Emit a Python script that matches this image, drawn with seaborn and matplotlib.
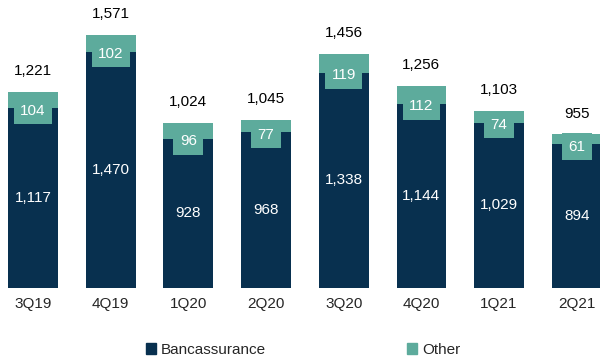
import matplotlib
matplotlib.use("Agg")
import matplotlib.pyplot as plt
import seaborn as sns
import pandas as pd
from matplotlib.patches import Patch

# --- data
quarters = ["3Q19", "4Q19", "1Q20", "2Q20", "3Q20", "4Q20", "1Q21", "2Q21"]
bancassurance = [1117, 1470, 928, 968, 1338, 1144, 1029, 894]
other = [104, 102, 96, 77, 119, 112, 74, 61]
totals = [1221, 1571, 1024, 1045, 1456, 1256, 1103, 955]

navy = "#08304f"
teal = "#5dab9c"

sns.set_style("white")
plt.rcParams["font.family"] = ["Liberation Sans Narrow", "Liberation Sans", "DejaVu Sans"]

df = pd.DataFrame({"Quarter": quarters, "Bancassurance": bancassurance,
                   "Other": other, "Total": totals})

fig = plt.figure(figsize=(6, 3.58), dpi=100)
ax = fig.add_axes([0, 0.195, 1, 0.805])

# total bar in teal, bancassurance drawn over it -> stacked look
sns.barplot(data=df, x="Quarter", y="Total", color=teal, width=0.64,
            saturation=1, linewidth=0, ax=ax)
sns.barplot(data=df, x="Quarter", y="Bancassurance", color=navy, width=0.64,
            saturation=1, linewidth=0, ax=ax)

for i, q in enumerate(quarters):
    ax.text(i, bancassurance[i] / 2, f"{bancassurance[i]:,}", ha="center",
            va="center", color="white", fontsize=11)
    ax.text(i, bancassurance[i] - 15, f"{other[i]}", ha="center", va="center",
            color="white", fontsize=11,
            bbox=dict(boxstyle="square,pad=0.42", fc=teal, ec="none"))
    ax.annotate(f"{totals[i]:,}", (i, totals[i]), xytext=(0, 10),
                textcoords="offset points", ha="center", va="bottom",
                fontsize=11, color="black")

ax.set_xlim(-0.425, 7.30)
ax.set_ylim(0, 1790)
ax.set_xlabel("")
ax.set_ylabel("")
ax.set_yticks([])
ax.tick_params(axis="x", length=0, labelsize=11, pad=6)
for s in ax.spines.values():
    s.set_visible(False)

handles = [Patch(color=navy, label="Bancassurance"), Patch(color=teal, label="Other")]
fig.legend(handles=handles, loc="lower center", bbox_to_anchor=(0.505, -0.035),
           ncol=2, frameon=False, fontsize=11, handlelength=0.7,
           handleheight=0.7, handletextpad=0.3, columnspacing=9.2)

fig.savefig("out.png", dpi=100)
